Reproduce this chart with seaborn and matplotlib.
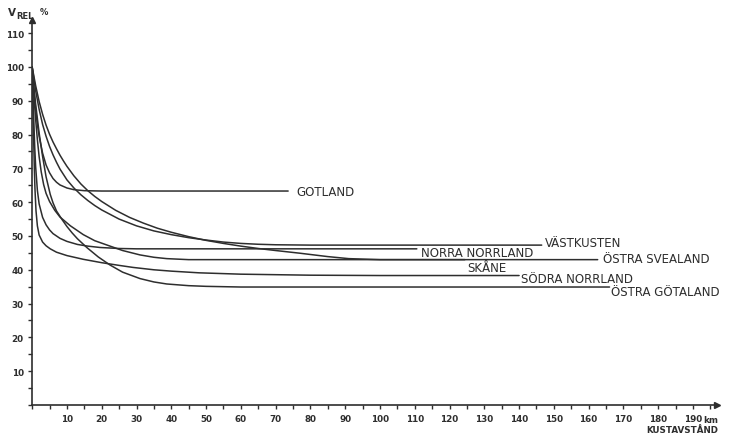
import matplotlib
matplotlib.use("Agg")
import matplotlib.pyplot as plt
import seaborn as sns
import pandas as pd
from matplotlib.ticker import MultipleLocator, FixedLocator

# Relative value (%) against distance from the coast (km), per region
gotland_km = [0, 0.5, 1, 1.5, 2, 3, 4, 5, 6, 7, 8, 10, 12, 15, 20, 73.6]
gotland_v = [100, 93, 87.5, 83, 79.5, 74.5, 71, 68.7, 67, 65.9, 65.1, 64.2, 63.7, 63.4, 63.3, 63.3]

vastkusten_km = [0, 1, 2, 3, 4, 5, 6, 7, 8, 10, 12, 14, 16, 18, 20, 25, 30, 35, 40, 45, 50, 55,
                 60, 65, 70, 80, 146.5]
vastkusten_v = [100, 93, 87.5, 83, 79.5, 76.5, 74, 71.8, 69.8, 66.6, 64.2, 62.2, 60.5, 59, 57.7,
                55, 53, 51.5, 50.4, 49.5, 48.8, 48.2, 47.8, 47.55, 47.4, 47.3, 47.3]

ostra_svealand_km = [0, 1, 2, 3, 4, 5, 6, 7, 8, 9, 10, 12, 14, 16, 18, 20, 24, 28, 32, 36, 40, 45,
                     50, 55, 60, 65, 70, 77, 85, 91, 100, 110, 162.6]
ostra_svealand_v = [100, 94.5, 89.8, 86, 82.8, 80.1, 77.8, 75.8, 73.9, 72.2, 70.6, 67.8, 65.4,
                    63.4, 61.7, 60.2, 57.6, 55.5, 53.8, 52.3, 51.1, 49.8, 48.7, 47.8, 47.0, 46.3,
                    45.7, 44.9, 43.9, 43.3, 43.0, 43.0, 43.0]

norra_norrland_km = [0, 0.25, 0.5, 0.75, 1, 1.5, 2, 3, 4, 5, 6, 8, 10, 13, 16, 19.5, 25, 30, 110.6]
norra_norrland_v = [100, 91, 83, 76, 70.5, 63.5, 59.5, 55.5, 53.3, 51.8, 50.7, 49.3, 48.4, 47.5,
                    47.0, 46.6, 46.3, 46.2, 46.2]

skane_km = [0, 0.5, 1, 1.5, 2, 2.6, 3.3, 4, 5, 6.5, 8, 11, 14.7, 18, 22.4, 26, 31, 35, 38.7, 45,
            50, 124.4]
skane_v = [100, 91.5, 84.5, 78.5, 73.5, 69, 65.2, 62.6, 60.2, 57.6, 55.6, 53.0, 50.4, 48.6, 47.0,
           45.7, 44.4, 43.7, 43.3, 43.0, 43.0, 43.0]

sodra_norrland_km = [0, 0.2, 0.4, 0.6, 0.8, 1.1, 1.5, 2, 3, 4, 5.2, 7, 10, 14.7, 20, 25, 29, 35,
                     40, 48, 60, 80, 100, 140]
sodra_norrland_v = [100, 90, 80, 71, 64, 57.5, 53, 50.3, 48.2, 47.1, 46.2, 45.2, 44.2, 43.1, 42.1,
                    41.3, 40.7, 40.0, 39.6, 39.1, 38.7, 38.4, 38.3, 38.3]

ostra_gotaland_km = [0, 0.5, 1, 2, 3, 4, 5.2, 6, 7, 8.5, 10, 11.5, 13, 15.7, 19, 22.4, 26, 31, 35,
                     38.7, 45, 50, 60, 166]
ostra_gotaland_v = [100, 94, 89, 80.5, 73.5, 67.5, 62.3, 59.8, 57.4, 55, 52.8, 50.9, 49.2, 46.6,
                    43.8, 41.4, 39.3, 37.4, 36.4, 35.8, 35.3, 35.1, 34.9, 34.9]

regions = ["GOTLAND", "VÄSTKUSTEN", "ÖSTRA SVEALAND", "NORRA NORRLAND",
           "SKÅNE", "SÖDRA NORRLAND", "ÖSTRA GÖTALAND"]
series_km = [gotland_km, vastkusten_km, ostra_svealand_km, norra_norrland_km,
             skane_km, sodra_norrland_km, ostra_gotaland_km]
series_v = [gotland_v, vastkusten_v, ostra_svealand_v, norra_norrland_v,
            skane_v, sodra_norrland_v, ostra_gotaland_v]

# label anchor (km, baseline value) beside the end of each curve
label_km = [75.9, 147.5, 164.2, 111.8, 125.0, 140.6, 166.4]
label_v = [62.1, 47.0, 42.3, 44.1, 39.6, 36.4, 32.5]

x_ticks = list(range(10, 200, 10))
y_ticks = list(range(10, 120, 10))

frames = [pd.DataFrame({"km": k, "v": v, "region": r})
          for r, k, v in zip(regions, series_km, series_v)]
df = pd.concat(frames, ignore_index=True)

sns.set_theme(style="white")
plt.rcParams["font.family"] = ["DejaVu Sans"]

ink = "#2e2e2e"
fig = plt.figure(figsize=(7.31, 4.35), dpi=100)
ax = fig.add_axes([0.0440, 0.0667, 0.9373, 0.8858])

sns.lineplot(data=df, x="km", y="v", units="region", estimator=None, sort=False,
             color=ink, linewidth=1.1, ax=ax)

for name, lx, lv in zip(regions, label_km, label_v):
    ax.text(lx, lv, name, fontsize=8.5, color=ink, ha="left", va="baseline")

ax.set_xlim(0, 197)
ax.set_ylim(0, 114)
ax.set_xlabel("")
ax.set_ylabel("")

for side in ("top", "right"):
    ax.spines[side].set_visible(False)
for side in ("left", "bottom"):
    ax.spines[side].set_color(ink)
    ax.spines[side].set_linewidth(1.2)

ax.xaxis.set_major_locator(FixedLocator(x_ticks))
ax.yaxis.set_major_locator(FixedLocator(y_ticks))
ax.xaxis.set_minor_locator(MultipleLocator(5))
ax.yaxis.set_minor_locator(MultipleLocator(5))
ax.set_xticklabels([str(t) for t in x_ticks])
ax.set_yticklabels([str(t) for t in y_ticks])
ax.tick_params(axis="both", which="both", direction="out", length=3, width=1.0,
               color=ink, bottom=True, left=True)
ax.tick_params(axis="x", which="major", pad=3.5, labelsize=6.3, labelcolor=ink)
ax.tick_params(axis="y", which="major", pad=3, labelsize=6.3, labelcolor=ink)
for lab in ax.get_xticklabels() + ax.get_yticklabels():
    lab.set_fontweight("bold")

# axis arrowheads
ax.plot(1, 0, marker=">", markersize=5, color=ink, transform=ax.transAxes, clip_on=False)
ax.plot(0, 1, marker="^", markersize=5, color=ink, transform=ax.transAxes, clip_on=False)

# unit and axis captions
ax.annotate("km", xy=(190, 0), xycoords="data", xytext=(7.5, -12.2), textcoords="offset points",
            fontsize=6.3, fontweight="bold", color=ink, ha="left", va="baseline",
            annotation_clip=False)
fig.text(718 / 731, 1 - 433.5 / 435, "KUSTAVSTÅND", fontsize=6.3, fontweight="bold",
         color=ink, ha="right", va="baseline")
fig.text(8 / 731, 1 - 16 / 435, "V", fontsize=7.5, fontweight="bold", color=ink,
         ha="left", va="baseline")
fig.text(16 / 731, 1 - 19 / 435, "REL", fontsize=6, fontweight="bold", color=ink,
         ha="left", va="baseline")
fig.text(40 / 731, 1 - 15 / 435, "%", fontsize=6, fontweight="bold", color=ink,
         ha="left", va="baseline")

fig.savefig("out.png", dpi=100)
